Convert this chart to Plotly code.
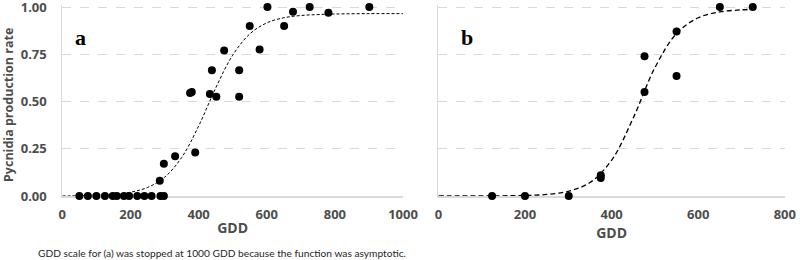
import plotly.graph_objects as go

# ---- data ----
# panel a: observed points
a_gdd = [50, 75, 100, 125, 148, 160, 181, 196, 220, 241, 262, 288, 298,
         286, 298, 331, 375, 380, 390, 433, 439, 452, 475, 519, 519,
         550, 579, 602, 651, 677, 726, 781, 901]
a_rate = [0, 0, 0, 0, 0, 0, 0, 0, 0, 0, 0, 0, 0,
          0.08, 0.17, 0.21, 0.545, 0.55, 0.23, 0.54, 0.665, 0.525, 0.77, 0.665, 0.525,
          0.90, 0.775, 1.0, 0.90, 0.975, 1.0, 0.97, 1.0]
# panel a: fitted curve
a_fit_gdd = [0, 50, 100, 150, 200, 250, 300, 350, 400, 450, 500, 550, 600, 650, 700, 750, 800, 900, 1000]
a_fit_rate = [0, 0.001, 0.004, 0.009, 0.02, 0.045, 0.099, 0.203, 0.37, 0.571, 0.745, 0.857,
              0.916, 0.943, 0.955, 0.96, 0.963, 0.965, 0.965]

# panel b: observed points
b_gdd = [124, 200, 301, 375, 375, 476, 476, 550, 550, 650, 726]
b_rate = [0, 0, 0, 0.11, 0.095, 0.74, 0.55, 0.87, 0.635, 1.0, 1.0]
# panel b: fitted curve
b_fit_gdd = [0, 50, 100, 150, 200, 250, 300, 350, 400, 450, 500, 550, 600, 650, 700, 726]
b_fit_rate = [0, 0, 0.0003, 0.001, 0.003, 0.008, 0.025, 0.071, 0.189, 0.413, 0.679, 0.86,
              0.943, 0.974, 0.985, 0.988]

y_ticks = [0, 0.25, 0.5, 0.75, 1.0]
y_tick_labels = ["0.00", "0.25", "0.50", "0.75", "1.00"]
a_x_ticks = [0, 200, 400, 600, 800, 1000]
b_x_ticks = [0, 200, 400, 600, 800]

y_title = "Pycnidia production rate"
caption = "GDD scale for (a) was stopped at 1000 GDD because the function was asymptotic."

# ---- figure ----
FONT = "Open Sans"
TICK_COLOR = "#4d4d4d"
GRID = "#d9d9d9"

fig = go.Figure()

fig.add_trace(go.Scatter(x=a_fit_gdd, y=a_fit_rate, mode="lines", line_shape="spline",
                         line=dict(color="black", width=1, dash="3px,2px"),
                         xaxis="x", yaxis="y", hoverinfo="skip", cliponaxis=False))
fig.add_trace(go.Scatter(x=a_gdd, y=a_rate, mode="markers",
                         marker=dict(color="black", size=8),
                         xaxis="x", yaxis="y", cliponaxis=False))
fig.add_trace(go.Scatter(x=b_fit_gdd, y=b_fit_rate, mode="lines", line_shape="spline",
                         line=dict(color="black", width=1.3, dash="5px,3px"),
                         xaxis="x2", yaxis="y2", hoverinfo="skip", cliponaxis=False))
fig.add_trace(go.Scatter(x=b_gdd, y=b_rate, mode="markers",
                         marker=dict(color="black", size=8),
                         xaxis="x2", yaxis="y2", cliponaxis=False))

tickfont = dict(family=FONT, size=13, color=TICK_COLOR, weight="bold")
titlefont = dict(family=FONT, size=14, color=TICK_COLOR, weight="bold")

common_x = dict(showgrid=False, zeroline=False, showline=True, linecolor=GRID, linewidth=2,
                ticks="", tickfont=tickfont, ticklabelstandoff=5, layer="below traces",
                automargin=False,
                title=dict(text="GDD", font=titlefont, standoff=2))
common_y = dict(range=[0, 1.01], tickvals=y_ticks, ticktext=y_tick_labels,
                showgrid=True, gridcolor=GRID, gridwidth=1, griddash="dash",
                zeroline=False, showline=True, linecolor=GRID, linewidth=1,
                ticks="", layer="below traces", ticklabeloverflow="allow",
                automargin=False)

Y_DOMAIN = [0.2462, 0.9803]

fig.update_layout(
    width=800, height=260,
    margin=dict(l=0, r=0, t=0, b=0),
    paper_bgcolor="white", plot_bgcolor="white",
    showlegend=False,
    xaxis=dict(domain=[0.0779, 0.5038], range=[0, 1000], tickvals=a_x_ticks, anchor="y", **common_x),
    yaxis=dict(domain=Y_DOMAIN, anchor="x", showticklabels=True, tickfont=tickfont,
               ticklabelstandoff=12, **common_y),
    xaxis2=dict(domain=[0.548, 0.981], range=[0, 800], tickvals=b_x_ticks, anchor="y2", **common_x),
    yaxis2=dict(domain=Y_DOMAIN, anchor="x2", showticklabels=False, **common_y),
    annotations=[
        dict(text=y_title, x=8 / 800, y=1 - 105 / 260, xref="paper", yref="paper",
             showarrow=False, xanchor="center", yanchor="middle", textangle=-90,
             font=dict(family=FONT, size=12.5, color=TICK_COLOR, weight="bold")),
        dict(text="a", x=80 / 800, y=1 - 37.7 / 260, xref="paper", yref="paper",
             showarrow=False, xanchor="center", yanchor="middle",
             font=dict(family="Liberation Serif", size=22, color="black", weight="bold")),
        dict(text="b", x=466.7 / 800, y=1 - 37.7 / 260, xref="paper", yref="paper",
             showarrow=False, xanchor="center", yanchor="middle",
             font=dict(family="Liberation Serif", size=22, color="black", weight="bold")),
        dict(text=caption, x=222 / 800, y=1 - 252.7 / 260, xref="paper", yref="paper",
             showarrow=False, xanchor="center", yanchor="middle",
             font=dict(family="Lato", size=10.2, color="#262626")),
    ],
)

# remove the default page margin so the 800x260 figure fills the window exactly
fig.write_html("out.html", config={"displayModeBar": False},
               post_script="document.body.style.margin='0';document.body.style.overflow='hidden';")
